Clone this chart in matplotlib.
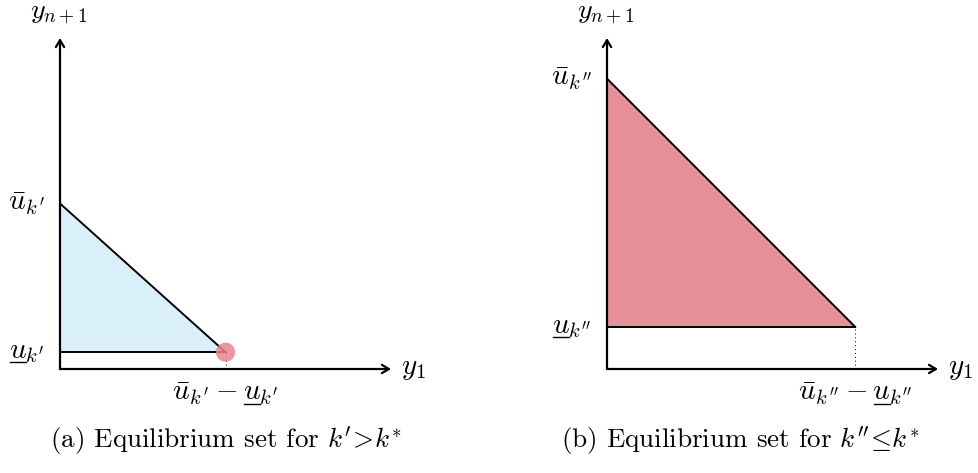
import matplotlib
matplotlib.use("Agg")
import matplotlib.pyplot as plt
from matplotlib.patches import Polygon
from matplotlib.lines import Line2D

plt.rcParams["mathtext.fontset"] = "cm"
plt.rcParams["font.family"] = ["cmr10", "DejaVu Serif"]
plt.rcParams["axes.formatter.use_mathtext"] = True

# panel values (schematic units)
panels = ["a", "b"]
u_top = [0.57, 1.0]
u_low = [0.058, 0.145]
corner_x = [0.57, 0.855]
axis_len = 1.14
fill_colors = ["#d9f0fa", "#e8909a"]
top_labels = [r"$\bar{u}_{k'}$", r"$\bar{u}_{k''}$"]
# lower labels: the leading u gets underlined by hand (mathtext has no \underline)
low_labels = [r"$u_{k'}$", r"$u_{k''}$"]
x_labels = [r"$\bar{u}_{k'}-u_{k'}$", r"$\bar{u}_{k''}-u_{k''}$"]
x_label_prefix = [r"$\bar{u}_{k'}-u$", r"$\bar{u}_{k''}-u$"]
captions = ["(a) Equilibrium set for $k'\\!>\\!k^{*}$", "(b) Equilibrium set for $k''\\!\\leq\\!k^{*}$"]

FS = 21
fig = plt.figure(figsize=(9.79, 4.73), dpi=100)
origins = [(60, 369), (607, 369)]
underlined = []  # (text artist, prefix string or None, baseline pixel y)
PT = 100 / 72

for i in range(2):
    ox, oy = origins[i]
    ax = fig.add_axes([ox / 979, (473 - oy) / 473, 331 / 979, 331 / 473])
    ax.set_xlim(0, axis_len)
    ax.set_ylim(0, axis_len)
    ax.axis("off")

    tri = Polygon([(0, u_low[i]), (0, u_top[i]), (corner_x[i], u_low[i])],
                  closed=True, facecolor=fill_colors[i], edgecolor="none")
    ax.add_patch(tri)
    ax.plot([0, corner_x[i]], [u_top[i], u_low[i]], color="black", lw=1.4)
    ax.plot([0, corner_x[i]], [u_low[i], u_low[i]], color="black", lw=1.4)
    ax.plot([corner_x[i], corner_x[i]], [0, u_low[i]], color="black", lw=0.7, ls=(0, (1, 3)))

    # axes arrows
    for end in [(axis_len, 0), (0, axis_len)]:
        ax.annotate("", xy=end, xytext=(0, 0), annotation_clip=False,
                    arrowprops=dict(arrowstyle="->,head_length=0.5,head_width=0.3", lw=1.6,
                                    color="black", shrinkA=0, shrinkB=0))

    if i == 0:
        ax.scatter([corner_x[i]], [u_low[i]], s=190, color="#e8848f", alpha=0.85,
                   edgecolors="none", zorder=5, clip_on=False)

    ax.annotate("$y_{n+1}$", xy=(0, axis_len), xytext=(-1, 8), textcoords="offset points",
                ha="center", va="bottom", fontsize=FS - 1, annotation_clip=False)
    ax.annotate("$y_1$", xy=(axis_len, 0), xytext=(7, 0), textcoords="offset points",
                ha="left", va="center", fontsize=FS, annotation_clip=False)
    ax.annotate(top_labels[i], xy=(0, u_top[i]), xytext=(-11, 0), textcoords="offset points",
                ha="right", va="center", fontsize=FS, annotation_clip=False)

    t = ax.annotate(low_labels[i], xy=(0, u_low[i]), xytext=(-11, -4.5), textcoords="offset points",
                    ha="right", va="baseline", fontsize=FS, annotation_clip=False)
    base_y = ax.transData.transform((0, u_low[i]))[1] - 4.5 * PT
    underlined.append((t, None, base_y))

    t = ax.annotate(x_labels[i], xy=(corner_x[i], 0), xytext=(0, -22), textcoords="offset points",
                    ha="center", va="baseline", fontsize=FS, annotation_clip=False)
    base_y = ax.transData.transform((corner_x[i], 0))[1] - 22 * PT
    underlined.append((t, x_label_prefix[i], base_y))

    ax.annotate(captions[i], xy=(corner_x[i] if i == 0 else 0.46, 0), xytext=(0, -40),
                textcoords="offset points", ha="center", va="top", fontsize=19.5,
                annotation_clip=False)

# hand-drawn underlines under the lower-bound u's
fig.canvas.draw()
renderer = fig.canvas.get_renderer()


def text_width(s):
    tmp = fig.text(0, 0, s, fontsize=FS)
    w = tmp.get_window_extent(renderer).width
    tmp.remove()
    return w


uw = text_width("$u$")
for t, prefix, base_y in underlined:
    bb = t.get_window_extent(renderer)
    if prefix is None:
        x0 = bb.x0
    else:
        x0 = bb.x0 + text_width(prefix) - uw
    fig.add_artist(Line2D([x0 + 1, x0 + uw - 1], [base_y - 4, base_y - 4],
                          transform=None, color="black", lw=1.0))

fig.savefig("out.png", dpi=100)
